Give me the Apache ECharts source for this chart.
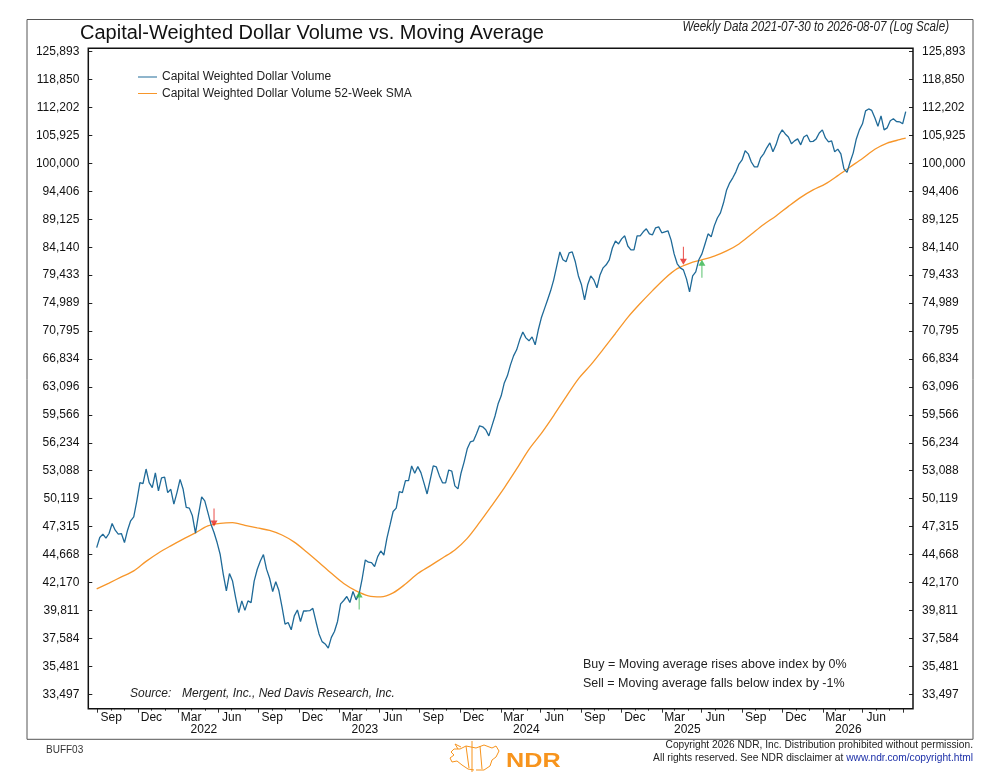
<!DOCTYPE html>
<html><head><meta charset="utf-8">
<script src="https://cdn.jsdelivr.net/npm/echarts@6/dist/echarts.min.js"></script>
<style>html,body{margin:0;padding:0;background:#fff}#c{width:987px;height:772px}</style>
</head><body><div id="c"></div>
<script>
// ---------------- data ----------------
const firstWeek = '2021-07-30';            // weekly data, one value per Friday
const cwdv = [
 45305,46262,46581,46199,46645,47614,46964,46581,46645,45784,
 46964,47881,48282,49885,51797,51692,53276,51797,51271,52844,
 50922,52320,52390,50747,51096,49551,50747,52146,51096,49217,
 49150,48382,46677,48549,50294,49885,48716,47548,46741,45784,
 44668,42886,41439,42946,42289,40877,39626,40597,39811,40597,
 40457,42289,43331,44074,44668,43342,42537,41389,42236,41473,
 40124,38699,38832,38247,39364,39845,38912,39763,39763,39790,
 39985,38912,37927,37330,37155,36829,37661,38114,38912,40350,
 40631,40968,40462,41389,40687,41192,42537,44176,43968,43938,
 43580,44474,45000,44623,46201,47475,48811,49145,50855,50749,
 52023,52023,53614,52805,53539,52876,51743,50607,52093,53618,
 53505,52524,51779,51779,53167,53056,51460,51140,52843,54069,
 55536,56329,56448,57287,58233,58114,57757,57043,58233,59423,
 60932,61944,63619,64557,66030,67259,68108,69523,70654,69806,
 69382,69948,68816,70945,72749,74102,75483,76916,78668,80980,
 83333,81988,81652,83165,83333,81652,79306,77872,75483,77872,
 79306,78668,77394,79467,80643,81148,81988,84006,85248,84712,
 85606,86141,84354,83669,83669,86141,86141,86856,87392,86498,
 86320,87571,87749,86677,86856,87034,85427,82997,81316,80643,
 80307,78828,76757,79306,79971,81988,82997,84712,86498,85963,
 87928,89371,90318,92211,94686,96085,97084,98283,99880,100722,
 102634,101997,100297,99281,99281,101147,101997,103271,104333,102422,
 103908,106037,107163,106262,105606,104121,104758,105182,103908,105606,
 106037,104608,104650,105182,106487,107163,105394,104546,104758,102422,
 102996,101997,98881,98182,100297,102209,105182,107163,108512,111437,
 111887,111550,109862,107950,110312,107163,107613,109187,109637,109030,
 108962,108512,111280
];
// 52-week SMA, every 4th week (week index from firstWeek)
const smaWeekIdx = [0,4,8,12,16,20,24,28,32,36,40,44,48,52,56,60,64,68,72,76,80,84,88,92,96,100,
 104,108,112,116,120,124,128,132,136,140,144,148,152,156,160,164,168,172,176,180,184,188,192,196,
 200,204,208,212,216,220,224,228,232,236,240,244,248,252,256,260,262];
const sma52 = [41614,42119,42654,43191,44042,44810,45475,46110,46708,47375,47625,47695,47445,47182,
 46945,46499,45825,44905,43943,42968,42077,41445,41024,40939,41276,42035,42950,43639,44355,45095,
 46186,47725,49428,51247,53280,55478,57341,59483,61818,64155,66030,68178,70441,72824,74929,76948,
 78907,80509,81400,81988,82610,83501,84712,86424,88178,89750,91530,93251,94686,95884,97522,99281,
 101041,102953,104270,105014,105330];
const sellSignals = [['2022-04-22', 47315], ['2025-03-21', 81148]];
const buySignals  = [['2023-03-17', 41386], ['2025-05-02', 81988]];
const yTickLabels = ['33,497','35,481','37,584','39,811','42,170','44,668','47,315','50,119','53,088',
 '56,234','59,566','63,096','66,834','70,795','74,989','79,433','84,140','89,125','94,406','100,000',
 '105,925','112,202','118,850','125,893'];
const monthNames = ['Jan','Feb','Mar','Apr','May','Jun','Jul','Aug','Sep','Oct','Nov','Dec'];
const labelMonths = [2,5,8,11];     // Mar, Jun, Sep, Dec
const majorTickMonths = [1,4,7,10]; // Feb, May, Aug, Nov
const yearLabels = [2022,2023,2024,2025,2026];

// ---------------- helpers ----------------
const DAY = 864e5;
const t0 = Date.parse(firstWeek + 'T00:00:00Z');
const weekDates = cwdv.map((_, i) => t0 + i * 7 * DAY);
const monthStarts = [];
for (let y = 2021; y <= 2026; y++) for (let m = 0; m < 12; m++) {
  const t = Date.UTC(y, m, 1);
  if (t >= Date.UTC(2021, 7, 1) && t <= Date.UTC(2026, 7, 1)) monthStarts.push(t);
}
const majorTicks = monthStarts.filter(t => majorTickMonths.includes(new Date(t).getUTCMonth()));
const minorTicks = monthStarts.filter(t => !majorTickMonths.includes(new Date(t).getUTCMonth()));
const labelTicks = monthStarts.filter(t => labelMonths.includes(new Date(t).getUTCMonth()));
const yearTicks = yearLabels.map(y => Date.UTC(y, 2, 30));
const pd = s => Date.parse(s + 'T00:00:00Z');

const F = "'Liberation Sans', Arial, sans-serif";
const BLUE = '#1f6a98', ORANGE = '#f7962a';
const xMin = Date.UTC(2021, 6, 11), xMax = Date.UTC(2026, 7, 23, 12);

const chart = echarts.init(document.getElementById('c'), null, {renderer: 'canvas'});
const downArrow = 'path://M3 0L4 0L4 12L7 12L3.5 18L0 12L3 12Z';
const upArrow = 'path://M3.5 0L7 6L4 6L4 18L3 18L3 6L0 6Z';

const valueAxisBase = {
  type: 'value', min: 4525, max: 5100, interval: 25,
  axisLine: {show: false}, splitLine: {show: false},
  axisTick: {show: true, inside: true, length: 4, lineStyle: {color: '#222'}},
  axisLabel: {margin: 9, fontSize: 12, color: '#111', fontFamily: F,
    formatter: (v) => yTickLabels[Math.round((v - 4525) / 25)]}
};

chart.setOption({
  animation: false,
  backgroundColor: '#fff',
  grid: {left: 88.3, right: 74, top: 51.7, bottom: 77.8, containLabel: false},
  legend: {
    data: ['Capital Weighted Dollar Volume', 'Capital Weighted Dollar Volume 52-Week SMA'],
    orient: 'vertical', left: 133, top: 65, itemWidth: 19, itemHeight: 14, itemGap: 2.5,
    textStyle: {fontSize: 12, fontFamily: F, color: '#222', lineHeight: 14},
    icon: 'path://M0 6.5L19 6.5L19 7.5L0 7.5Z'
  },
  xAxis: [{
    type: 'value', min: xMin, max: xMax, position: 'bottom', offset: 14.5,
    axisLine: {show: false, onZero: false}, splitLine: {show: false},
    axisTick: {show: true, length: 4, customValues: majorTicks, lineStyle: {color: '#333'}},
    axisLabel: {customValues: labelTicks, margin: 3, fontSize: 12, color: '#111', fontFamily: F,
      hideOverlap: false,
      formatter: v => monthNames[new Date(v).getUTCMonth()]}
  }, {
    type: 'value', min: xMin, max: xMax, position: 'bottom', offset: 14.5,
    axisLine: {show: false, onZero: false}, splitLine: {show: false},
    axisTick: {show: true, length: 2, customValues: minorTicks, lineStyle: {color: '#333'}},
    axisLabel: {customValues: yearTicks, margin: 15, fontSize: 12, color: '#111', fontFamily: F,
      hideOverlap: false,
      formatter: v => String(new Date(v).getUTCFullYear())}
  }],
  yAxis: [
    {type: 'log', logBase: 10, min: Math.pow(10, 4.525), max: Math.pow(10, 5.1), position: 'left',
     axisLine: {show: false}, axisTick: {show: false}, axisLabel: {show: false}, splitLine: {show: false}},
    Object.assign({}, valueAxisBase, {position: 'left'}),
    Object.assign({}, valueAxisBase, {position: 'right'})
  ],
  series: [
    {name: 'Capital Weighted Dollar Volume 52-Week SMA', type: 'line', xAxisIndex: 0, yAxisIndex: 0,
     data: smaWeekIdx.map((w, k) => [weekDates[w], sma52[k]]), smooth: 0.3, symbol: 'none',
     lineStyle: {color: ORANGE, width: 1.3}, itemStyle: {color: ORANGE}, z: 2},
    {name: 'Capital Weighted Dollar Volume', type: 'line', xAxisIndex: 0, yAxisIndex: 0,
     data: weekDates.map((d, i) => [d, cwdv[i]]), symbol: 'none',
     lineStyle: {color: BLUE, width: 1.3}, itemStyle: {color: BLUE}, z: 3},
    {name: 'Sell', type: 'scatter', xAxisIndex: 0, yAxisIndex: 0,
     data: sellSignals.map(s => [pd(s[0]), s[1]]), symbol: downArrow, symbolSize: [7, 18],
     symbolOffset: [0, -9], itemStyle: {color: '#e3201b'}, z: 5},
    {name: 'Buy', type: 'scatter', xAxisIndex: 0, yAxisIndex: 0,
     data: buySignals.map(s => [pd(s[0]), s[1]]), symbol: upArrow, symbolSize: [7, 18],
     symbolOffset: [0, 9], itemStyle: {color: '#2fb34a'}, z: 5}
  ],
  graphic: [
    {type: 'rect', shape: {x: 27, y: 19.5, width: 946, height: 719.8}, style: {fill: 'none', stroke: '#555', lineWidth: 1}, z: 100, silent: true},
    {type: 'rect', shape: {x: 88.3, y: 48.3, width: 824.7, height: 660.4}, style: {fill: 'none', stroke: '#111', lineWidth: 1.5}, z: 100, silent: true},
    {type: 'text', x: 80, y: 33.5, style: {text: 'Capital-Weighted Dollar Volume vs. Moving Average', font: '20px ' + F, fill: '#111', verticalAlign: 'middle'}, z: 100},
    {type: 'text', x: 949, y: 27.5, scaleX: 0.83, style: {text: 'Weekly Data 2021-07-30 to 2026-08-07 (Log Scale)', font: 'italic 14px ' + F, fill: '#222', align: 'right', verticalAlign: 'middle'}, z: 100},
    {type: 'text', x: 130, y: 694, style: {text: 'Source:', font: 'italic 12px ' + F, fill: '#222', verticalAlign: 'middle'}, z: 100},
    {type: 'text', x: 182, y: 694, style: {text: 'Mergent, Inc., Ned Davis Research, Inc.', font: 'italic 12px ' + F, fill: '#222', verticalAlign: 'middle'}, z: 100},
    {type: 'text', x: 583, y: 665, style: {text: 'Buy = Moving average rises above index by 0%', font: '12.5px ' + F, fill: '#222', verticalAlign: 'middle'}, z: 100},
    {type: 'text', x: 583, y: 683.5, style: {text: 'Sell = Moving average falls below index by -1%', font: '12.5px ' + F, fill: '#222', verticalAlign: 'middle'}, z: 100},
    {type: 'text', x: 46, y: 750.5, style: {text: 'BUFF03', font: '10px ' + F, fill: '#333', verticalAlign: 'middle'}, z: 100},
    {type: 'text', x: 973, y: 745, style: {text: 'Copyright 2026 NDR, Inc. Distribution prohibited without permission.', font: '10.2px ' + F, fill: '#222', align: 'right', verticalAlign: 'middle'}, z: 100},
    {type: 'text', x: 973, y: 758.3, style: {text: '{a|All rights reserved. See NDR disclaimer at }{b|www.ndr.com/copyright.html}', align: 'right', verticalAlign: 'middle',
      rich: {a: {font: '10.2px ' + F, fill: '#222', color: '#222'}, b: {font: '10.2px ' + F, fill: '#1c2fa8', color: '#1c2fa8'}}}, z: 100},
    {type: 'text', x: 506, y: 761, scaleX: 1.2, style: {text: 'NDR', font: 'bold 21px ' + F, fill: '#f7941d', verticalAlign: 'middle'}, z: 100},
    {type: 'polyline', shape: {points: [[472, 741], [472, 772]]}, style: {stroke: '#f7941d', lineWidth: 1, fill: 'none'}, z: 100},
    {type: 'polyline', shape: {points: [[476, 748], [466, 746], [460, 749], [454, 749], [451, 752], [454, 755], [450, 758], [452, 762], [457, 761], [462, 765], [468, 769], [474, 770]]}, style: {stroke: '#f7941d', lineWidth: 1, fill: 'none'}, z: 100},
    {type: 'polyline', shape: {points: [[458, 749], [455, 744], [461, 747]]}, style: {stroke: '#f7941d', lineWidth: 1, fill: 'none'}, z: 100},
    {type: 'polyline', shape: {points: [[476, 748], [484, 745], [492, 748], [496, 746], [499, 751], [496, 757], [492, 760], [490, 766], [484, 770], [476, 770]]}, style: {stroke: '#f7941d', lineWidth: 1, fill: 'none'}, z: 100},
    {type: 'polyline', shape: {points: [[466, 746], [469, 768]]}, style: {stroke: '#f7941d', lineWidth: 1, fill: 'none'}, z: 100},
    {type: 'polyline', shape: {points: [[480, 746], [482, 769]]}, style: {stroke: '#f7941d', lineWidth: 1, fill: 'none'}, z: 100}
  ]
});
</script></body></html>
